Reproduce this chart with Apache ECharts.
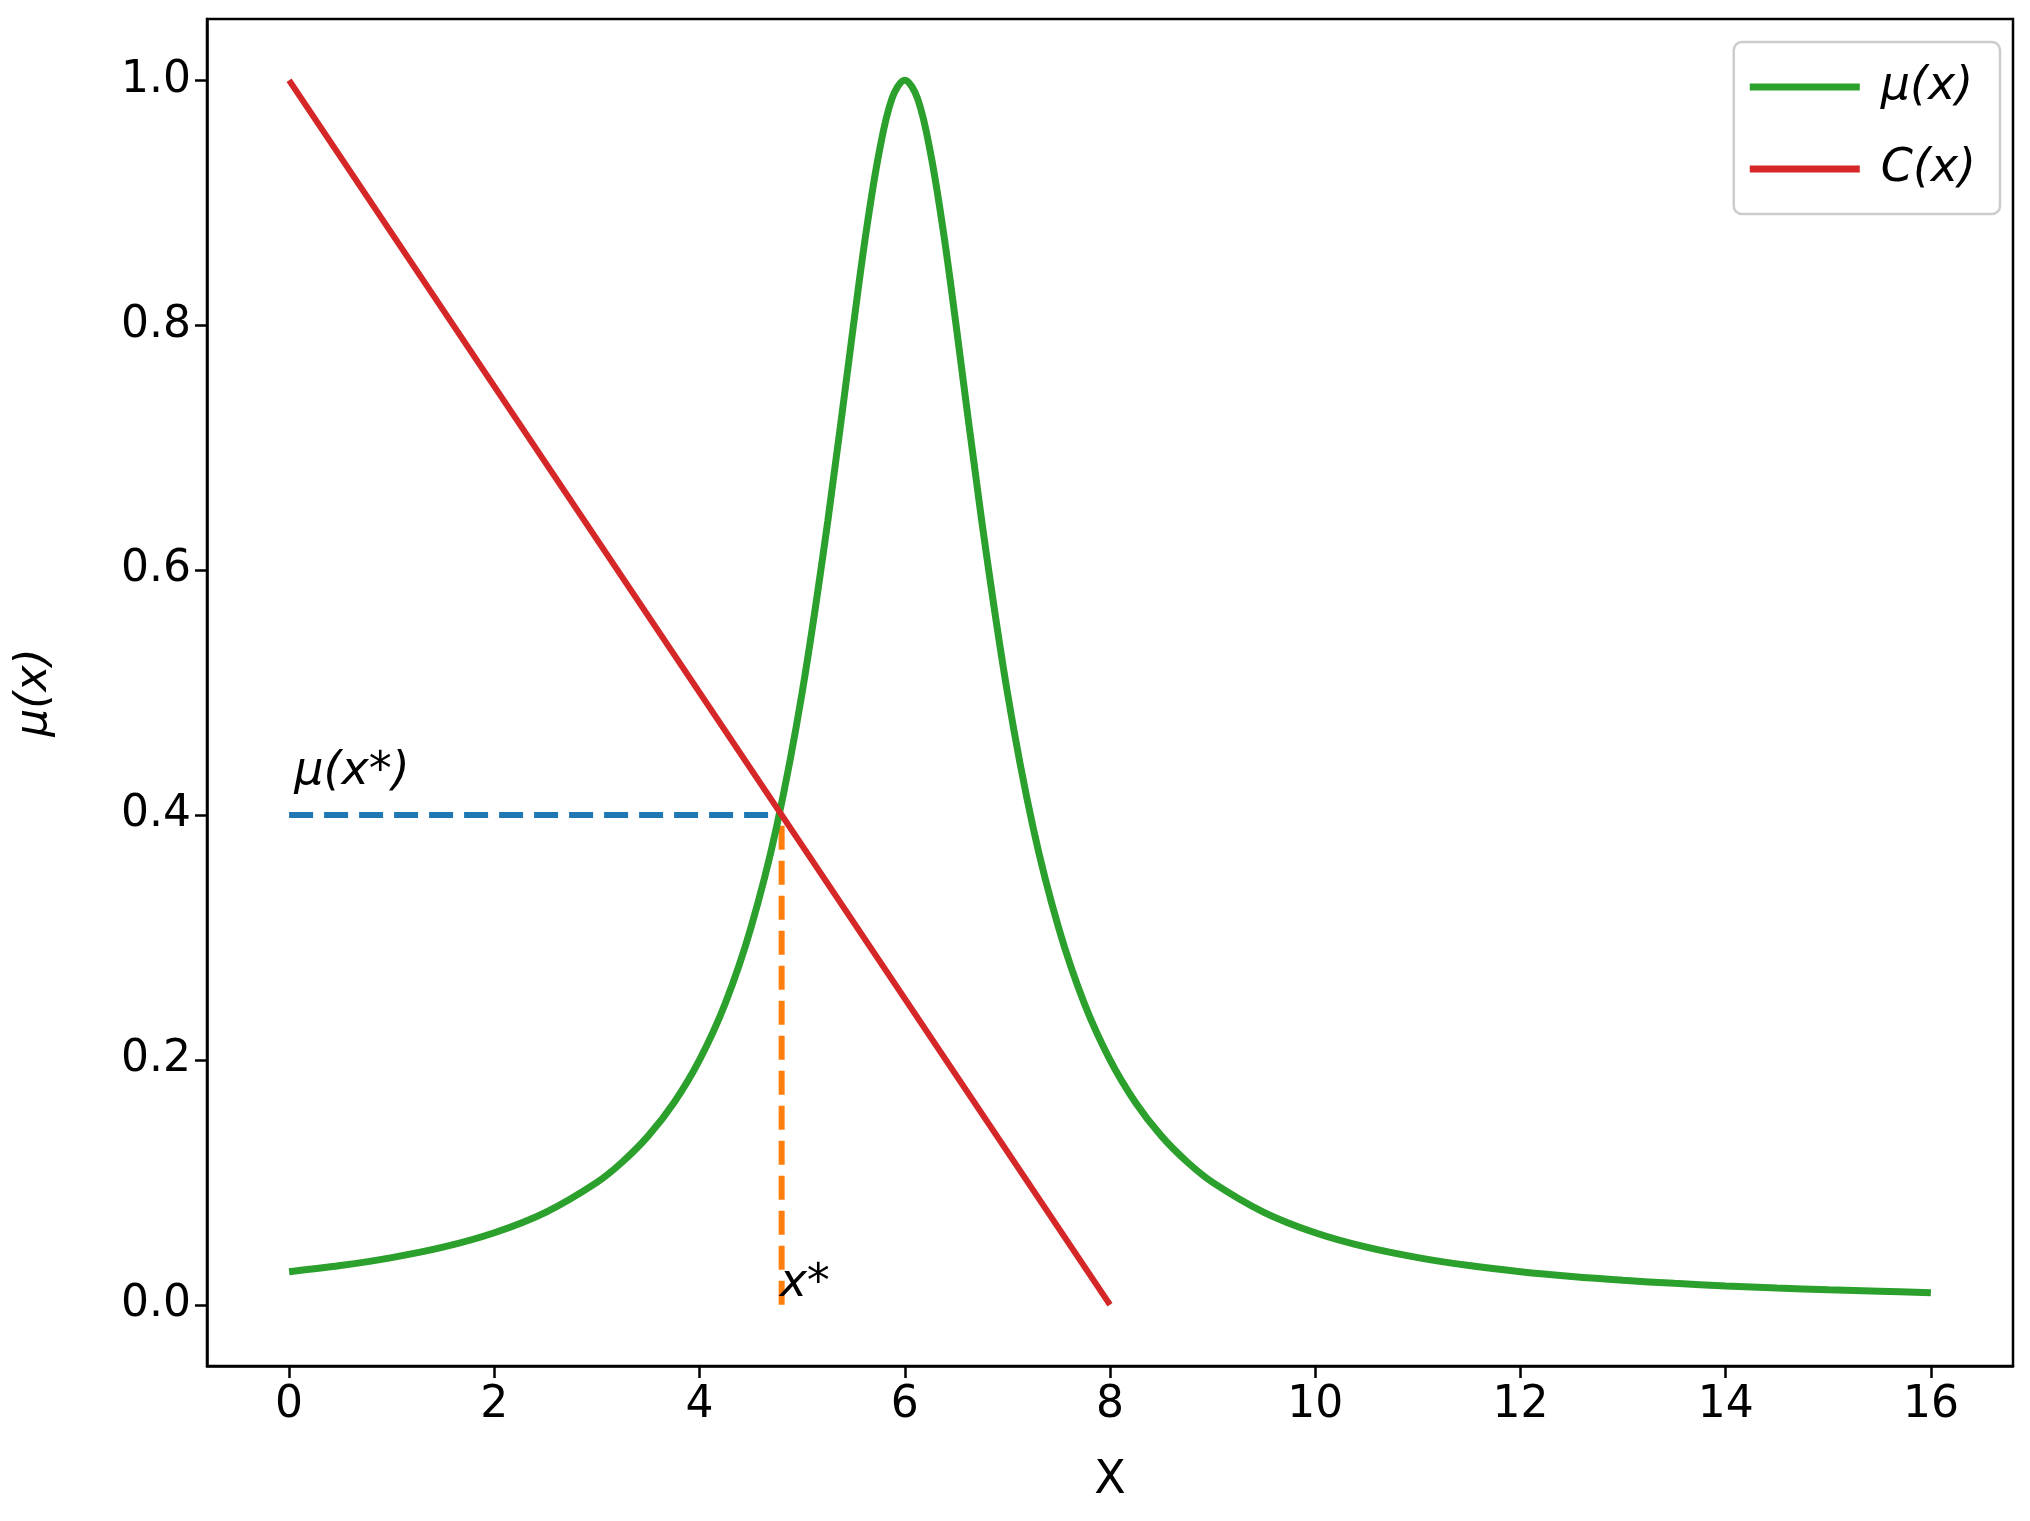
<!DOCTYPE html>
<html><head><meta charset="utf-8">
<script src="https://cdn.jsdelivr.net/npm/echarts@6/dist/echarts.min.js"></script>
<style>html,body{margin:0;padding:0;background:#fff}#c{width:2030px;height:1521px}</style>
</head><body><div id="c"></div>
<script>
const muX = [0,0.5,1,1.5,2,2.5,3,3.25,3.5,3.75,4,4.25,4.5,4.75,5,5.25,5.5,5.625,5.75,5.875,6,6.125,6.25,6.375,6.5,6.75,7,7.25,7.5,7.75,8,8.25,8.5,8.75,9,9.5,10,10.5,11,11.5,12,12.5,13,13.5,14,14.5,15,15.5,16];
const muY = [0.027,0.032,0.0385,0.047,0.0588,0.0755,0.1,0.1168,0.1379,0.165,0.2,0.246,0.3077,0.39,0.5,0.64,0.8,0.877,0.941,0.985,1,0.985,0.941,0.877,0.8,0.64,0.5,0.39,0.3077,0.246,0.2,0.165,0.1379,0.1168,0.1,0.0755,0.0588,0.047,0.0385,0.032,0.027,0.0231,0.02,0.0175,0.0154,0.0137,0.0122,0.011,0.0099];
const cX = [0, 8];
const cY = [1, 0];
const xStar = 4.8, muStar = 0.4;
const xTicks = [0,2,4,6,8,10,12,14,16];
const yTicks = [0,0.2,0.4,0.6,0.8,1.0];
const F = 'DejaVu Sans';
const chart = echarts.init(document.getElementById('c'));
chart.setOption({
  animation:false,
  grid:{left:207,right:17,top:19,bottom:155},
  legend:{
    right:30, top:42, orient:'vertical', itemWidth:110, itemHeight:7, itemGap:36,
    padding:[22,24,22,16], borderColor:'#ccc', borderWidth:2.5, borderRadius:8,
    textStyle:{fontFamily:F, fontSize:46, fontStyle:'italic', color:'#000', padding:[0,0,0,16]},
    data:[{name:'μ(x)',icon:'rect'},{name:'C(x)',icon:'rect'}]
  },
  xAxis:{type:'value',min:-0.8,max:16.8,
    name:'X',nameLocation:'middle',nameGap:92,nameTextStyle:{fontFamily:F,fontSize:46,color:'#000'},
    axisLine:{show:true,onZero:false,lineStyle:{color:'#000',width:2.5}},
    axisTick:{show:true,length:12,customValues:xTicks,lineStyle:{color:'#000',width:2.5}},
    splitLine:{show:false},
    axisLabel:{fontFamily:F,fontSize:44,color:'#000',margin:18,customValues:xTicks,formatter:v=>String(v)}
  },
  yAxis:{type:'value',min:-0.05,max:1.05,
    name:'μ(x)',nameLocation:'middle',nameGap:150,nameRotate:90,
    nameTextStyle:{fontFamily:F,fontSize:44,fontStyle:'italic',color:'#000'},
    axisLine:{show:true,onZero:false,lineStyle:{color:'#000',width:2.5}},
    axisTick:{show:true,length:12,customValues:yTicks,lineStyle:{color:'#000',width:2.5}},
    splitLine:{show:false},
    axisLabel:{fontFamily:F,fontSize:44,color:'#000',margin:16,customValues:yTicks,formatter:v=>v.toFixed(1)}
  },
  series:[
    {name:'μ(x)',type:'line',data:muX.map((x,i)=>[x,muY[i]]),smooth:0.35,showSymbol:false,
      lineStyle:{color:'#2ca02c',width:7},itemStyle:{color:'#2ca02c'},z:3},
    {name:'C(x)',type:'line',data:cX.map((x,i)=>[x,cY[i]]),showSymbol:false,
      lineStyle:{color:'#d62728',width:6},itemStyle:{color:'#d62728'},z:4},
    {name:'h',type:'line',data:[[0,muStar],[xStar,muStar]],showSymbol:false,
      lineStyle:{color:'#1f77b4',width:6,type:[24,11]},z:2},
    {name:'v',type:'line',data:[[xStar,0],[xStar,muStar]],showSymbol:false,
      lineStyle:{color:'#ff7f0e',width:6,type:[24,11]},z:2}
  ]
});
const p1 = chart.convertToPixel({gridIndex:0},[0.05,muStar]);
const p2 = chart.convertToPixel({gridIndex:0},[xStar,0]);
chart.setOption({graphic:[
  {type:'rect',shape:{x:207,y:19,width:1806,height:1347},style:{fill:'none',stroke:'#000',lineWidth:2.5},silent:true,z:10},
  {type:'text',x:p1[0],y:p1[1]-20,style:{text:'μ(x*)',font:'italic 46px "DejaVu Sans"',fill:'#000',textAlign:'left',textVerticalAlign:'bottom'},z:10},
  {type:'text',x:p2[0]-2,y:p2[1]+2,style:{text:'x*',font:'italic 46px "DejaVu Sans"',fill:'#000',textAlign:'left',textVerticalAlign:'bottom'},z:10}
]});
</script></body></html>
